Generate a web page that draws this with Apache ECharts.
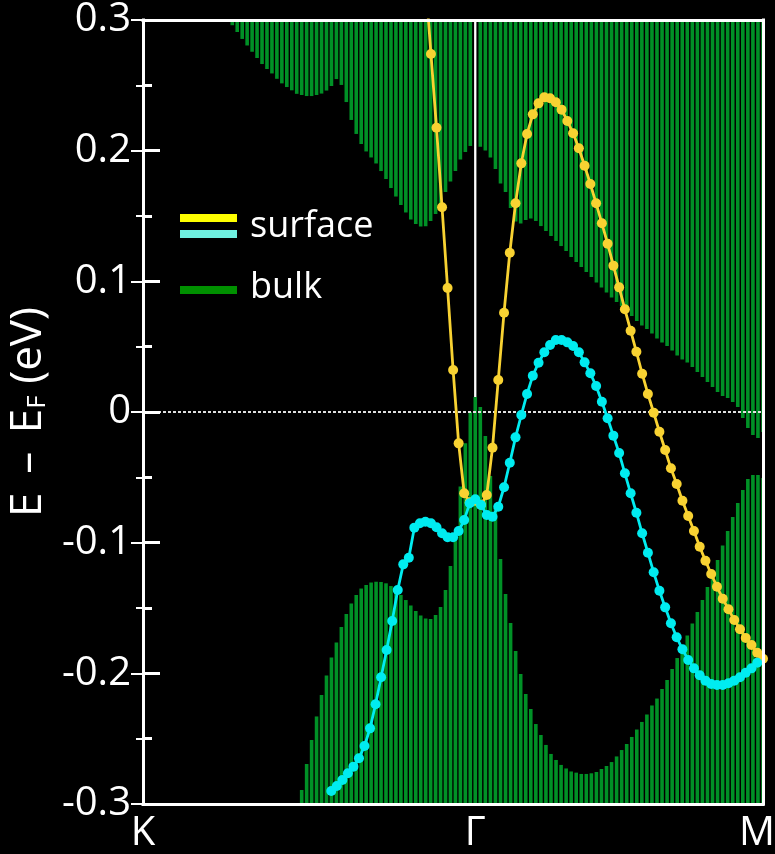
<!DOCTYPE html>
<html>
<head>
<meta charset="utf-8">
<title>Surface and bulk bands along K–Γ–M</title>
<script src="https://cdn.jsdelivr.net/npm/echarts@6/dist/echarts.min.js"></script>
<style>
  html, body { margin: 0; padding: 0; background: #000; }
  #chart { width: 775px; height: 854px; }
</style>
</head>
<body>
<div id="chart"></div>
<script>
// ---- k-path: K -> Γ -> M, lengths in units of |ΓM| ----
const K_TO_GAMMA = 2 / Math.sqrt(3);
const K_PATH_END = K_TO_GAMMA + 1;
const kLabels = ['K', 'Γ', 'M'];
const kLabelPos = [0, K_TO_GAMMA, K_PATH_END];

// ---- energy window (eV) and tick labels ----
const E_MIN = -0.3;
const E_MAX = 0.3;
const E_STEP = 0.1;
const yTickLabels = ['-0.3', '-0.2', '-0.1', '0', '0.1', '0.2', '0.3'];
const legendLabels = ['surface', 'bulk'];

// ---- projected bulk continuum (edges in eV) ----
// K–Γ: 68 k-points including both ends; Γ–M: 57 k-points after Γ.
// Upper continuum runs from its lower edge up past the window top.
const bulkUpperKG = [
  null, null, null, null, null, null, null, null, null, null,
  null, null, null, null, null, null, null, null,
  0.2960, 0.2908, 0.2855, 0.2805, 0.2757, 0.2709, 0.2663, 0.2625, 0.2591, 0.2550,
  0.2515, 0.2487, 0.2462, 0.2435, 0.2426, 0.2418, 0.2418, 0.2426, 0.2437, 0.2460,
  0.2495, 0.2548, 0.2503, 0.2372, 0.2235, 0.2128, 0.2051, 0.1994, 0.1948, 0.1902,
  0.1844, 0.1783, 0.1714, 0.1649, 0.1584, 0.1527, 0.1473, 0.1439, 0.1420, 0.1421,
  0.1462, 0.1515, 0.1592, 0.1684, 0.1764, 0.1844, 0.1932, 0.1990, 0.2036,
  null
];
const bulkUpperGM = [
  0.2030, 0.2001, 0.1948, 0.1860, 0.1749, 0.1684, 0.1561, 0.1458, 0.1443, 0.1469,
  0.1481, 0.1462, 0.1423, 0.1385, 0.1347, 0.1309, 0.1270, 0.1232, 0.1186, 0.1148,
  0.1110, 0.1071, 0.1033, 0.0991, 0.0953, 0.0915, 0.0876, 0.0842, 0.0811, 0.0773,
  0.0735, 0.0696, 0.0662, 0.0635, 0.0601, 0.0562, 0.0532, 0.0505, 0.0471, 0.0432,
  0.0402, 0.0379, 0.0344, 0.0306, 0.0268, 0.0230, 0.0191, 0.0153, 0.0122, 0.0107,
  0.0077, 0.0038, -0.0046, -0.0122, -0.0176, -0.0199, -0.0153
];
// Lower continuum runs from below the window bottom up to its upper edge.
const bulkLowerKG = [
  null, null, null, null, null, null, null, null, null, null,
  null, null, null, null, null, null, null, null, null, null,
  null, null, null, null, null, null, null, null, null, null,
  null, null,
  -0.2893, -0.2694, -0.2510, -0.2330, -0.2166, -0.2017, -0.1879, -0.1764, -0.1645, -0.1546,
  -0.1466, -0.1400, -0.1351, -0.1324, -0.1305, -0.1299, -0.1301, -0.1311, -0.1332, -0.1366,
  -0.1400, -0.1439, -0.1481, -0.1523, -0.1557, -0.1580, -0.1584, -0.1554, -0.1492, -0.1362,
  -0.1179, -0.0960, -0.0570, -0.0240, 0.0000, 0.0115
];
const bulkLowerGM = [
  0.0038, -0.0184, -0.0490, -0.0735, -0.1125, -0.1393, -0.1615, -0.1829, -0.2005, -0.2158,
  -0.2273, -0.2388, -0.2472, -0.2548, -0.2617, -0.2663, -0.2701, -0.2728, -0.2751, -0.2760,
  -0.2770, -0.2770, -0.2765, -0.2755, -0.2732, -0.2709, -0.2679, -0.2636, -0.2587, -0.2541,
  -0.2487, -0.2430, -0.2372, -0.2315, -0.2246, -0.2193, -0.2120, -0.2051, -0.1967, -0.1883,
  -0.1806, -0.1710, -0.1619, -0.1531, -0.1439, -0.1339, -0.1240, -0.1133, -0.1022, -0.0911,
  -0.0804, -0.0696, -0.0597, -0.0513, -0.0482, -0.0482, -0.0505
];

// ---- surface bands (eV) ----
// K–Γ: 61 k-points including both ends; Γ–M: 50 k-points after Γ.
const surfYellowKG = [
  null, null, null, null, null, null, null, null, null, null,
  null, null, null, null, null, null, null, null, null, null,
  null, null, null, null, null, null, null, null, null, null,
  null, null, null, null, null, null, null, null, null, null,
  null, null, null, null, null, null, null, null, null, null,
  null,
  0.3310, 0.2740, 0.2176, 0.1567, 0.0949, 0.0321, -0.0240, -0.0622, -0.0690, -0.0680
];
const surfYellowGM = [
  -0.0710, -0.0635, -0.0273, 0.0245, 0.0760, 0.1219, 0.1597, 0.1903, 0.2128, 0.2278,
  0.2362, 0.2408, 0.2401, 0.2370, 0.2314, 0.2227, 0.2133, 0.2018, 0.1885, 0.1745,
  0.1597, 0.1444, 0.1288, 0.1120, 0.0954, 0.0786, 0.0622, 0.0461, 0.0293, 0.0138,
  -0.0005, -0.0151, -0.0291, -0.0431, -0.0551, -0.0679, -0.0796, -0.0911, -0.1031, -0.1138,
  -0.1240, -0.1337, -0.1429, -0.1510, -0.1592, -0.1663, -0.1730, -0.1783, -0.1842, -0.1888
];
const surfCyanKG = [
  null, null, null, null, null, null, null, null, null, null,
  null, null, null, null, null, null, null, null, null, null,
  null, null, null, null, null, null, null, null, null, null,
  null, null, null, null,
  -0.2901, -0.2862, -0.2816, -0.2765, -0.2714, -0.2650, -0.2556, -0.2421, -0.2237, -0.2030,
  -0.1821, -0.1600, -0.1362, -0.1166, -0.1115, -0.0885, -0.0852, -0.0840, -0.0852, -0.0882,
  -0.0928, -0.0959, -0.0959, -0.0911, -0.0827, -0.0699, -0.0668
];
const surfCyanGM = [
  -0.0712, -0.0788, -0.0801, -0.0725, -0.0576, -0.0388, -0.0194, -0.0023, 0.0138, 0.0278,
  0.0377, 0.0457, 0.0513, 0.0551, 0.0551, 0.0533, 0.0505, 0.0457, 0.0380, 0.0296,
  0.0199, 0.0079, -0.0048, -0.0181, -0.0314, -0.0469, -0.0622, -0.0771, -0.0928, -0.1077,
  -0.1227, -0.1368, -0.1495, -0.1617, -0.1724, -0.1816, -0.1898, -0.1962, -0.2015, -0.2056,
  -0.2082, -0.2089, -0.2089, -0.2076, -0.2056, -0.2030, -0.1995, -0.1962, -0.1919, null
];

// ---- styling ----
const FONT = '"Open Sans", "DejaVu Sans", sans-serif';
const C_BULK = '#009126';
const C_YELLOW = '#f8d232';
const C_CYAN = '#00ecf0';
const BAR_PX = 3.6;
const FRAME = { color: '#ffffff', width: 3, cap: 'square' };

// Attach k to each value: K–Γ arrays include Γ, Γ–M arrays start after Γ.
function kPath(kgVals, gmVals) {
  const n1 = kgVals.length - 1;
  const n2 = gmVals.length;
  const pts = [];
  kgVals.forEach((v, i) => pts.push([K_TO_GAMMA * i / n1, v]));
  gmVals.forEach((v, j) => pts.push([K_TO_GAMMA + (j + 1) / n2, v]));
  return pts;
}
const bandPoints = (kg, gm) => kPath(kg, gm).filter(p => p[1] !== null);

// Bulk columns as [k, low, high]
const bulkColumns = [];
kPath(bulkUpperKG, bulkUpperGM).forEach(([k, e]) => {
  if (e !== null) bulkColumns.push([k, e, E_MAX]);
});
kPath(bulkLowerKG, bulkLowerGM).forEach(([k, e]) => {
  if (e !== null) bulkColumns.push([k, E_MIN, e]);
});

function renderBulkColumn(params, api) {
  const k = api.value(0);
  const top = api.coord([k, api.value(2)]);
  const bottom = api.coord([k, api.value(1)]);
  return {
    type: 'rect',
    shape: { x: top[0] - BAR_PX / 2, y: top[1], width: BAR_PX, height: bottom[1] - top[1] },
    style: { fill: C_BULK }
  };
}

const chart = echarts.init(document.getElementById('chart'), null, { renderer: 'canvas' });

const yAxisCommon = {
  type: 'value',
  min: E_MIN,
  max: E_MAX,
  interval: E_STEP,
  splitLine: { show: false }
};
const xAxisCommon = {
  type: 'value',
  min: 0,
  max: K_PATH_END,
  splitLine: { show: false },
  axisTick: { show: false }
};

chart.setOption({
  backgroundColor: '#000',
  animation: false,
  textStyle: { fontFamily: FONT },
  grid: { left: 143, right: 12, top: 20, bottom: 50, containLabel: false, outerBoundsMode: 'none' },
  xAxis: [
    Object.assign({}, xAxisCommon, {
      position: 'bottom',
      z: 8,
      axisLine: { show: true, onZero: false, lineStyle: FRAME },
      axisLabel: {
        customValues: kLabelPos,
        color: '#ffffff',
        fontSize: 40,
        fontFamily: FONT,
        margin: 10,
        formatter: function (v) {
          const idx = kLabelPos.findIndex(p => Math.abs(p - v) < 1e-6);
          const txt = kLabels[idx];
          return idx === kLabels.length - 1 ? '{end|' + txt + '}' : txt;
        },
        rich: {
          end: { color: '#ffffff', fontSize: 40, fontFamily: FONT, padding: [0, 12, 0, 0] }
        }
      }
    }),
    Object.assign({}, xAxisCommon, {
      position: 'top',
      z: 8,
      axisLine: { show: true, onZero: false, lineStyle: FRAME },
      axisLabel: { show: false }
    })
  ],
  yAxis: [
    Object.assign({}, yAxisCommon, {
      position: 'left',
      z: 8,
      axisLine: { show: true, onZero: false, lineStyle: FRAME },
      name: '{n|E \u2009– \u2009E}{s|F}{n| (eV)}',
      nameLocation: 'middle',
      nameRotate: 90,
      nameGap: 68,
      nameTextStyle: {
        color: '#ffffff',
        fontSize: 44,
        fontFamily: FONT,
        rich: {
          n: { color: '#ffffff', fontSize: 44, fontFamily: FONT },
          s: { color: '#ffffff', fontSize: 26, fontFamily: FONT, padding: [20, 0, 0, 0] }
        }
      },
      axisTick: { show: true, inside: true, length: 17, lineStyle: { color: '#ffffff', width: 3 } },
      minorTick: { show: true, splitNumber: 2, length: 9, lineStyle: { color: '#ffffff', width: 3 } },
      axisLabel: {
        color: '#ffffff',
        fontSize: 40,
        fontFamily: FONT,
        margin: 12,
        padding: [7, 0, 0, 0],
        formatter: v => yTickLabels[Math.round((v - E_MIN) / E_STEP)]
      }
    }),
    Object.assign({}, yAxisCommon, {
      // inner tick marks along the right edge, beneath the bulk columns
      position: 'right',
      z: 0,
      axisLine: { show: false },
      axisTick: { show: true, inside: true, length: 12, lineStyle: { color: '#ffffff', width: 2 } },
      minorTick: { show: true, splitNumber: 2, length: 7, lineStyle: { color: '#ffffff', width: 2 } },
      axisLabel: { show: false }
    }),
    Object.assign({}, yAxisCommon, {
      position: 'right',
      z: 8,
      axisLine: { show: true, onZero: false, lineStyle: FRAME },
      axisTick: { show: false },
      axisLabel: { show: false }
    })
  ],
  graphic: [
    { type: 'rect', shape: { x: 180, y: 214, width: 57, height: 8 }, style: { fill: '#ffff00' }, z: 10 },
    { type: 'rect', shape: { x: 180, y: 230, width: 57, height: 8 }, style: { fill: '#6ff0e0' }, z: 10 },
    { type: 'rect', shape: { x: 180, y: 286, width: 57, height: 8 }, style: { fill: '#009000' }, z: 10 },
    { type: 'text', x: 250, y: 227, z: 10,
      style: { text: legendLabels[0], fill: '#ffffff', fontSize: 36, fontFamily: FONT, verticalAlign: 'middle' } },
    { type: 'text', x: 250, y: 288, z: 10,
      style: { text: legendLabels[1], fill: '#ffffff', fontSize: 36, fontFamily: FONT, verticalAlign: 'middle' } }
  ],
  series: [
    {
      name: legendLabels[1],
      type: 'custom',
      renderItem: renderBulkColumn,
      data: bulkColumns,
      encode: { x: 0, y: [1, 2] },
      clip: true,
      silent: true,
      z: 2
    },
    {
      // Fermi level
      type: 'line',
      data: [[0, 0], [K_PATH_END, 0]],
      symbol: 'none',
      silent: true,
      lineStyle: { color: '#e0e0e0', width: 2, type: [3, 2] },
      z: 3
    },
    {
      // Γ marker above the lower continuum
      type: 'line',
      data: [[K_TO_GAMMA, E_MAX], [K_TO_GAMMA, bulkLowerKG[bulkLowerKG.length - 1]]],
      symbol: 'none',
      silent: true,
      lineStyle: { color: '#ffffff', width: 2.3 },
      z: 3
    },
    {
      name: legendLabels[0],
      type: 'line',
      data: bandPoints(surfYellowKG, surfYellowGM),
      symbol: 'circle',
      symbolSize: 10,
      showSymbol: true,
      clip: true,
      itemStyle: { color: C_YELLOW },
      lineStyle: { color: C_YELLOW, width: 2.8 },
      z: 4
    },
    {
      name: legendLabels[0],
      type: 'line',
      data: bandPoints(surfCyanKG, surfCyanGM),
      symbol: 'circle',
      symbolSize: 10,
      showSymbol: true,
      clip: true,
      itemStyle: { color: C_CYAN },
      lineStyle: { color: C_CYAN, width: 2.8 },
      z: 5
    }
  ]
});
</script>
</body>
</html>
